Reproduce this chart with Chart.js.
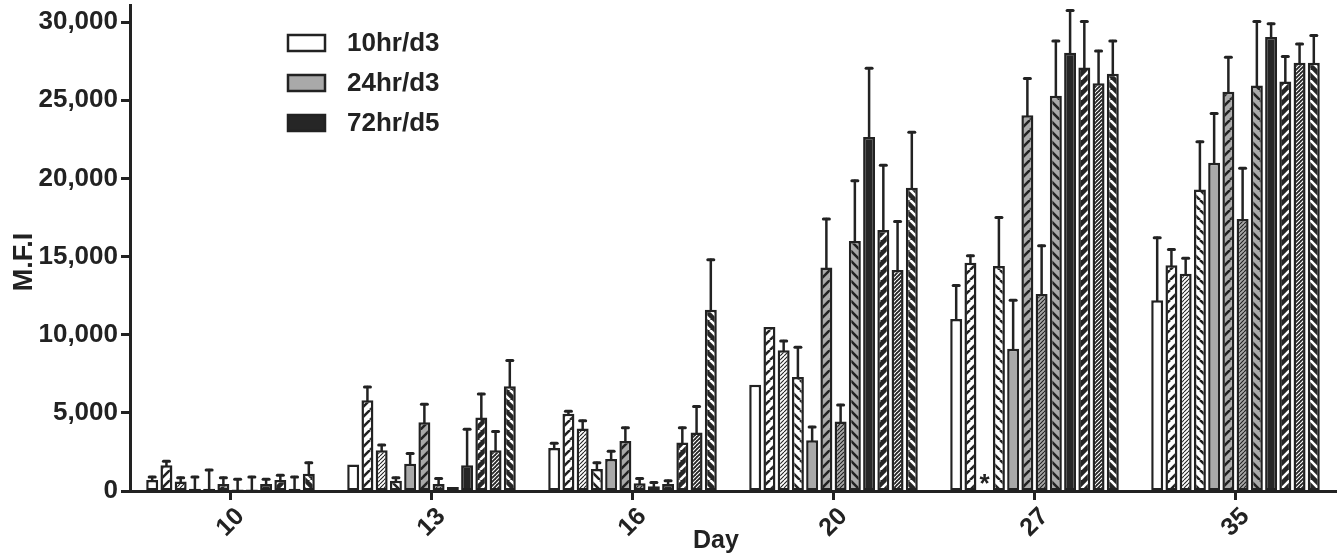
<!DOCTYPE html>
<html>
<head>
<meta charset="utf-8">
<script src="https://cdn.jsdelivr.net/npm/chart.js@4.4.0/dist/chart.umd.min.js"></script>
<style>
html, body { margin: 0; padding: 0; background: #fff; }
#wrap { width: 1340px; height: 557px; }
</style>
</head>
<body>
<div id="wrap"><canvas id="myChart"></canvas></div>
<script>
// categories + legend
var days = ['10', '13', '16', '20', '27', '35'];
var legendLabels = ['10hr/d3', '24hr/d3', '72hr/d5'];

// 10hr/d3 bars (solid, stripes /, thin stripes, stripes \)
var w_solid = [700, 1700, 2750, 6800, 11000, 12200];
var w_fwd   = [1650, 5800, 4950, 10500, 14600, 14450];
var w_thin  = [600, 2600, 4000, 9000, null, 13900];
var w_back  = [150, 650, 1400, 7300, 14400, 19300];
// 24hr/d3
var g_solid = [150, 1750, 2050, 3250, 9100, 21000];
var g_fwd   = [450, 4400, 3200, 14300, 24050, 25550];
var g_thin  = [100, 450, 500, 4450, 12600, 17400];
var g_back  = [100, 250, 300, 16000, 25300, 25950];
// 72hr/d5
var b_solid = [450, 1650, 450, 22650, 28050, 29050];
var b_fwd   = [700, 4700, 3100, 16700, 27100, 26200];
var b_thin  = [150, 2600, 3750, 14150, 26100, 27400];
var b_back  = [1100, 6700, 11600, 19400, 26700, 27400];

// upper error (SD) for each bar
var w_solid_err = [200, 0, 300, 0, 2150, 4000];
var w_fwd_err   = [250, 850, 150, 0, 450, 1000];
var w_thin_err  = [250, 350, 500, 600, 0, 1000];
var w_back_err  = [750, 200, 400, 1900, 3100, 3050];
var g_solid_err = [1200, 650, 500, 850, 3100, 3150];
var g_fwd_err   = [400, 1150, 850, 3100, 2350, 2200];
var g_thin_err  = [650, 350, 300, 1050, 3100, 3250];
var g_back_err  = [800, 0, 250, 3850, 3500, 4100];
var b_solid_err = [300, 2300, 200, 4400, 2700, 850];
var b_fwd_err   = [300, 1500, 950, 4150, 2950, 1600];
var b_thin_err  = [750, 1200, 1650, 3100, 2050, 1200];
var b_back_err  = [700, 1650, 3200, 3550, 2100, 1750];

var yTicks = [0, 5000, 10000, 15000, 20000, 25000, 30000];

var INK = '#222';
var WHITE = '#ffffff', GRAY = '#a9a9a9', DARK = '#262626';
var FONT = '"Liberation Sans", Arial, sans-serif';

function stripes(bg, fg, size, lw, back) {
    var c = document.createElement('canvas');
    c.width = size; c.height = size;
    var g = c.getContext('2d');
    g.fillStyle = bg;
    g.fillRect(0, 0, size, size);
    g.strokeStyle = fg;
    g.lineWidth = lw;
    g.beginPath();
    if (!back) {
        g.moveTo(0, size); g.lineTo(size, 0);
        g.moveTo(-size, size); g.lineTo(0, 0);
        g.moveTo(size, size); g.lineTo(2 * size, 0);
    } else {
        g.moveTo(0, 0); g.lineTo(size, size);
        g.moveTo(-size, 0); g.lineTo(0, size);
        g.moveTo(size, 0); g.lineTo(2 * size, size);
    }
    g.stroke();
    return g.createPattern(c, 'repeat');
}

function bars(label, data, errors, fill) {
    return {
        label: label,
        data: data,
        errors: errors,
        backgroundColor: fill,
        borderColor: INK,
        borderWidth: 2.5,
        borderSkipped: false,
        categoryPercentage: 0.85,
        barPercentage: 0.84
    };
}

var datasets = [
    bars('10hr/d3', w_solid, w_solid_err, WHITE),
    bars('10hr/d3', w_fwd, w_fwd_err, stripes(WHITE, INK, 10, 2.6, false)),
    bars('10hr/d3', w_thin, w_thin_err, stripes(WHITE, INK, 4, 1.1, false)),
    bars('10hr/d3', w_back, w_back_err, stripes(WHITE, INK, 10, 2.6, true)),
    bars('24hr/d3', g_solid, g_solid_err, GRAY),
    bars('24hr/d3', g_fwd, g_fwd_err, stripes(GRAY, INK, 10, 2.6, false)),
    bars('24hr/d3', g_thin, g_thin_err, stripes(GRAY, INK, 4, 1.1, false)),
    bars('24hr/d3', g_back, g_back_err, stripes(GRAY, INK, 10, 2.6, true)),
    bars('72hr/d5', b_solid, b_solid_err, DARK),
    bars('72hr/d5', b_fwd, b_fwd_err, stripes(DARK, WHITE, 10, 2.6, false)),
    bars('72hr/d5', b_thin, b_thin_err, stripes(DARK, WHITE, 4, 1.1, false)),
    bars('72hr/d5', b_back, b_back_err, stripes(DARK, WHITE, 10, 2.6, true))
];

// whiskers (upper only) with caps
var errorBars = {
    id: 'errorBars',
    afterDatasetsDraw: function(chart) {
        var ctx = chart.ctx, y = chart.scales.y;
        ctx.save();
        ctx.strokeStyle = INK;
        ctx.lineCap = 'round';
        chart.data.datasets.forEach(function(ds, i) {
            var meta = chart.getDatasetMeta(i);
            meta.data.forEach(function(bar, j) {
                var v = ds.data[j], e = ds.errors[j];
                if (v == null || !e) return;
                var top = y.getPixelForValue(v + e);
                ctx.lineWidth = 2.5;
                ctx.beginPath();
                ctx.moveTo(bar.x, bar.y);
                ctx.lineTo(bar.x, top);
                ctx.stroke();
                ctx.lineWidth = 3;
                ctx.beginPath();
                ctx.moveTo(bar.x - 3, top);
                ctx.lineTo(bar.x + 3, top);
                ctx.stroke();
            });
        });
        ctx.restore();
    }
};

// legend, axis titles and the asterisk for the missing bar
var extras = {
    id: 'extras',
    afterDraw: function(chart) {
        var ctx = chart.ctx;
        var fills = [WHITE, GRAY, DARK];
        ctx.save();
        ctx.font = 'bold 26px ' + FONT;
        ctx.textBaseline = 'middle';
        legendLabels.forEach(function(t, i) {
            var cy = 43 + i * 40;
            ctx.fillStyle = fills[i];
            ctx.fillRect(288, cy - 8, 37, 16);
            ctx.strokeStyle = INK;
            ctx.lineWidth = 2.5;
            ctx.strokeRect(288, cy - 8, 37, 16);
            ctx.fillStyle = INK;
            ctx.fillText(t, 347, cy + 1);
        });

        ctx.textAlign = 'center';
        ctx.textBaseline = 'alphabetic';
        ctx.font = 'bold 25px ' + FONT;
        ctx.fillText('Day', 716, 548);

        ctx.save();
        ctx.translate(32, 262);
        ctx.rotate(-Math.PI / 2);
        ctx.font = 'bold 27px ' + FONT;
        ctx.fillText('M.F.I', 0, 0);
        ctx.restore();

        var a = chart.getDatasetMeta(1).data[4], b = chart.getDatasetMeta(3).data[4];
        ctx.font = 'bold 26px ' + FONT;
        ctx.fillText('*', (a.x + b.x) / 2, chart.scales.y.getPixelForValue(0) + 1);
        ctx.restore();
    }
};

Chart.defaults.font.family = FONT;
Chart.defaults.font.weight = 'bold';
Chart.defaults.color = INK;

var ctx = document.getElementById('myChart').getContext('2d');
var chart = new Chart(ctx, {
    type: 'bar',
    data: { labels: days, datasets: datasets },
    options: {
        responsive: true,
        maintainAspectRatio: false,
        animation: false,
        devicePixelRatio: 1,
        layout: { padding: { top: 5, right: 4, left: 0, bottom: 0 } },
        plugins: { legend: { display: false }, tooltip: { enabled: false } },
        scales: {
            x: {
                grid: { offset: false, drawOnChartArea: false, tickLength: 9, tickWidth: 3, tickColor: INK },
                border: { color: INK, width: 3 },
                ticks: { font: { size: 25, weight: 'bold' }, minRotation: 45, maxRotation: 45, labelOffset: 10, padding: 2 },
                afterFit: function(s) { s.height = 66; s.paddingLeft = 0; s.paddingRight = 0; }
            },
            y: {
                min: 0,
                max: 31100,
                grid: { drawOnChartArea: false, tickLength: 9, tickWidth: 3, tickColor: INK },
                border: { color: INK, width: 3 },
                ticks: {
                    stepSize: 5000,
                    font: { size: 26, weight: 'bold' },
                    padding: 3,
                    callback: function(v) { return v.toLocaleString('en-US'); }
                },
                afterBuildTicks: function(s) {
                    s.ticks = yTicks.map(function(v) { return { value: v }; });
                },
                afterFit: function(s) { s.width = 130; s.paddingTop = 0; s.paddingBottom = 0; }
            }
        }
    },
    plugins: [errorBars, extras]
});
</script>
</body>
</html>
